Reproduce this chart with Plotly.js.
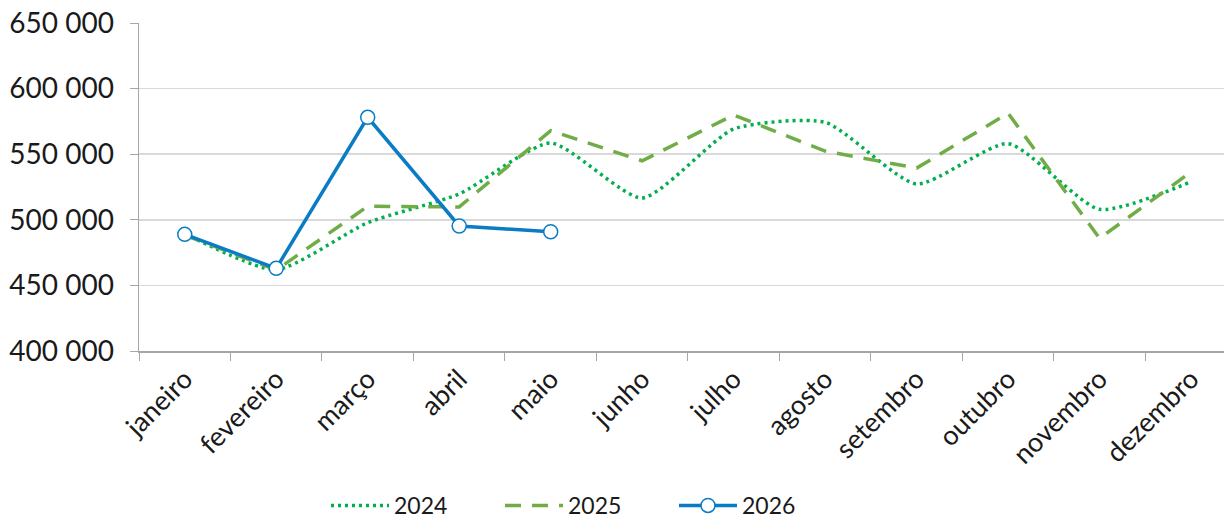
<!DOCTYPE html>
<html>
<head>
<meta charset="utf-8">
<script src="https://cdn.plot.ly/plotly-3.0.1.min.js"></script>
<style>html,body{margin:0;padding:0;background:#fff;}#chart{width:1224px;height:527px;}</style>
</head>
<body>
<div id="chart"></div>
<script>
const months = ["janeiro","fevereiro","março","abril","maio","junho","julho","agosto","setembro","outubro","novembro","dezembro"];
const v2024 = [489500, 462000, 497800, 519700, 558500, 516600, 569200, 574300, 527300, 558000, 508000, 529000];
const v2025 = [488400, 461700, 510300, 509800, 567900, 545000, 579900, 552400, 539400, 581200, 485900, 536500];
const v2026 = [488900, 463000, 578100, 495300, 490900];
const months2026 = months.slice(0, v2026.length);

const fontFamily = "Lato, 'DejaVu Sans', sans-serif";
const traces = [
  {x: months, y: v2024, name: "2024", type: "scatter", mode: "lines",
   line: {color: "#00b050", width: 3.5, dash: "3px,4px", shape: "spline", smoothing: 0.6}},
  {x: months, y: v2025, name: "2025", type: "scatter", mode: "lines",
   line: {color: "#70ad47", width: 3.5, dash: "16px,11px"}},
  {x: months2026, y: v2026, name: "2026", type: "scatter", mode: "lines+markers",
   line: {color: "#0a7cc6", width: 3.5},
   marker: {symbol: "circle", size: 14, color: "#ffffff", line: {color: "#0a7cc6", width: 1.5}}}
];
const layout = {
  width: 1224, height: 527,
  margin: {l: 139, r: 0, t: 23, b: 176, pad: 0},
  paper_bgcolor: "#ffffff", plot_bgcolor: "#ffffff",
  separators: ", ",
  font: {family: fontFamily, color: "#1a1a1a", size: 24},
  showlegend: true,
  legend: {orientation: "h", xref: "container", x: 326 / 1224, xanchor: "left",
           yref: "container", y: 0, yanchor: "bottom",
           font: {size: 23, color: "#1a1a1a"}, itemwidth: 58, entrywidth: 101, entrywidthmode: "pixels",
           bgcolor: "rgba(0,0,0,0)"},
  xaxis: {type: "category", categoryorder: "array", categoryarray: months,
          range: [-0.5, 11.36], tickson: "boundaries", ticks: "outside", ticklen: 8, tickcolor: "#a6a6a6",
          showline: true, linecolor: "#a6a6a6", linewidth: 1.5, showgrid: false, zeroline: false,
          automargin: false,
          tickangle: -45, tickfont: {size: 27, color: "#1a1a1a"}, fixedrange: true},
  yaxis: {range: [400000, 650000], dtick: 50000, tick0: 400000, tickformat: ",d",
          ticks: "outside", ticklen: 8, tickcolor: "#a6a6a6", automargin: false, ticklabelstandoff: 10,
          showline: true, linecolor: "#a6a6a6", linewidth: 1.5,
          showgrid: true, gridcolor: "#d9d9d9", gridwidth: 1.5, zeroline: false,
          tickfont: {size: 28, color: "#1a1a1a"}, fixedrange: true}
};
Plotly.newPlot("chart", traces, layout, {displayModeBar: false, staticPlot: true});
</script>
</body>
</html>
